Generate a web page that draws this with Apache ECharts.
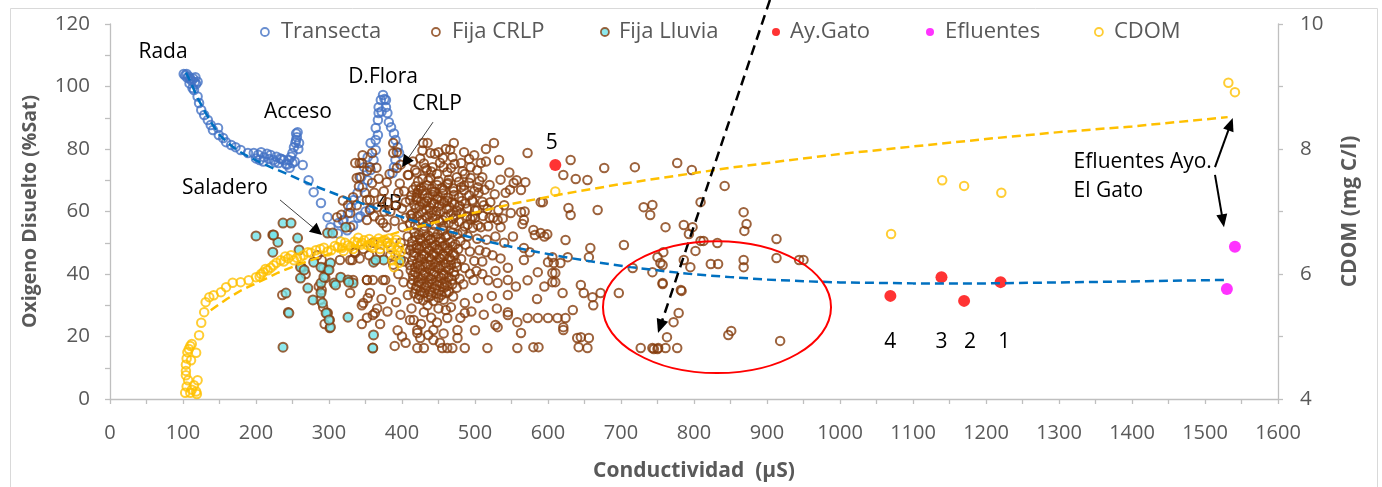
<!DOCTYPE html>
<html>
<head>
<meta charset="utf-8">
<script src="https://cdn.jsdelivr.net/npm/echarts@6/dist/echarts.min.js"></script>
<style>
html, body { margin: 0; padding: 0; background: #ffffff; }
#chart { width: 1382px; height: 487px; }
</style>
</head>
<body>
<div id="chart"></div>
<script>
// Conductividad (µS) vs Oxigeno Disuelto (%Sat)
const transecta = [
  [101,104],[103,103.5],[105,104],[106,102.8],[108,103.2],[110,102.5],[112,101.8],[114,102.6],[116,101.4],[118,100.8],
  [120,101.5],[117,103],[109,101],[113,99.5],[115,98.9],[120,96.8],[122,94.7],[125,92.5],[129,90.9],[134,89.3],
  [138,87.7],[141,86.1],[148,86.7],[149,84.5],[155,83.5],[159,82.2],[166,81.3],[172,80.6],[179,79.7],[189,78.7],
  [197,78.7],[203,78.2],[207,79],[211,77.4],[215,78.5],[220,78.1],[224,76.5],[228,77.5],[231,75.5],[235,76.8],
  [238,76.5],[241,75.2],[245,76.5],[248,77.5],[250,78.7],[252,80.6],[254,82],[255,82.9],[255,85],[257,85.4],
  [256,83.8],[258,80],[259,81.9],[253,76],[200,77],[205,76.5],[210,76],[218,76.8],[226,75.8],[233,77],
  [243,75],[246,74],[250,75.5],[264,74.9],[272,70],[279,66.2],[289,62.7],[298,58.2],[302,55],[313,56.3],
  [320,57.3],[326,59.5],[330,61.4],[334,63.7],[339,65.9],[346,67.8],[353,70],[357,73.3],[361,76.5],[364,79.7],
  [364,82.9],[367,84.5],[364,86.7],[367,89.3],[368,91.5],[368,93.4],[371,95.7],[374,97.3],[378,95.7],[378,93.4],
  [380,91.5],[382,88.6],[385,87],[389,85],[391,82.9],[394,80.6],[396,78.7],[391,76.5],[389,74.2],[387,72.3],
  [357,81.9],[353,77.4],[348,74.2],[344,71],[319,57],[312,53],[325,54],[333,55.5],[340,58],[343,58.5],
  [350,60],[357,61],[376,96],[372,92]
];

const fijaCRLP = [
  // 230-330
  [236,33.3],[244,27.8],[290,44.5],[292,41.9],[295,38.7],[290,34.9],[288,31.7],[292,29.4],[297,27.5],[301,25.3],
  [301,22.7],[315,44.5],[329,44.5],[333,38.1],[352,38.1],[360,38.1],[353,32.3],[345,30],[360,26.9],[360,16.3],
  [374,38.1],[336,46.7],[384,46],[263,42],[268,40],[284,46],[286,36],[294,24],
  // 330-440, around 4B and D.Flora
  [336,75.5],[342,75.5],[338,70.7],[359,78.7],[359,69.1],[388,81.9],[388,78.7],[393,73.9],[379,69.4],[352,63.7],
  [356,60.5],[352,57.3],[338,62],[370,57.3],[379,55],[401,55],[329,55],[411,63.7],[421,65.9],[429,81.9],
  [434,73.3],[332,44.5],[329,33.9],[347,30.7],[356,33.9],[352,38.1],[377,38.1],[363,27.5],[411,25.3],[421,21.1],
  [342,71],[356,74.2],[365,74],[393,79],[397,69],[408,71.7],[333,64.6],[356,63.7],[366,61.4],[329,59.5],
  [311,58.2],[317,59],[374,56.3],[345,75.5],[395,66],[400,61],[405,58],[384,60],[390,57],[362,66],
  [372,64],[380,63],[335,47],[342,45],[347,48],[355,46],[360,50],[370,47],[380,50],[388,43],
  [395,40],[385,35],[372,32],[366,29],[352,26],[345,24],[370,24],[380,28],[392,31],[398,27],
  [394,22],[390,17],[405,18],[400,20],[403,44],[398,50],[405,48],[408,52],
  [346,78],[352,73],[368,70.5],[375,66.5],[383,72],[398,75],[403,66.5],[362,58.5],[349,66],[326,62],
  [319,63.5],[341,68],[376,60],[392,62],[405,63],
  // 410-500 core
  [414,50.5],[420,49.2],[426,50.8],[433,49.6],[439,50.9],[446,49.3],[452,50.4],[459,49.1],[466,50.2],[473,49.5],[480,50.6],
  [411,47.6],[417,46.8],[424,47.9],[430,46.4],[437,47.5],[443,46.6],[450,47.8],[456,46.3],[463,47.4],[470,46.7],[477,47.9],
  [414,44.3],[421,43.5],[427,44.8],[434,43.2],[440,44.6],[447,43.7],[453,44.9],[460,43.4],[467,44.5],[474,43.6],
  [412,41.2],[418,40.5],[425,41.7],[431,40.3],[438,41.4],[444,40.6],[451,41.8],[457,40.2],[464,41.3],[471,40.7],
  [415,38.1],[422,37.4],[428,38.6],[435,37.2],[441,38.3],[448,37.5],[454,38.7],[461,37.3],[468,38.2],
  [419,35.2],[425,34.5],[432,35.6],[438,34.3],[445,35.4],[451,34.6],[458,35.7],[464,34.4],
  [422,32.1],[429,31.6],[436,32.5],[443,31.4],[450,32.4],[457,31.8],
  [417,53.4],[423,52.6],[430,53.8],[436,52.3],[443,53.5],[449,52.7],[456,53.9],[462,52.4],[469,53.3],[476,52.8],[483,53.6],
  [411,56.2],[418,55.6],[424,56.8],[431,55.3],[437,56.5],[444,55.7],[451,56.9],[457,55.4],[464,56.3],[471,55.8],[478,56.7],[486,55.2],
  [414,59.3],[421,58.5],[427,59.8],[434,58.4],[440,59.5],[447,58.7],[453,59.9],[460,58.3],[467,59.4],[474,58.8],[481,59.6],[489,58.5],
  [417,62.2],[424,61.6],[431,62.7],[438,61.3],[444,62.5],[451,61.8],[458,62.9],[465,61.4],[472,62.3],[479,61.7],[487,62.6],
  [413,65.1],[420,64.5],[428,65.6],[435,64.3],[442,65.4],[449,64.7],[456,65.8],[463,64.4],[471,65.3],[478,64.6],[492,65.2],
  [419,68.1],[426,67.5],[434,68.4],[441,67.3],[448,68.5],[455,67.6],[462,68.7],[470,67.4],[485,68.3],
  [487,49.4],[493,47.2],[490,52.1],[497,54.8],[494,57.6],[500,60.3],[497,63.2],[503,51.3],[481,44.8],[486,41.9],
  [479,38.5],[475,35.6],[470,32.8],[484,36.7],[493,40.1],[499,44.2],[506,47.6],
  [417,33.8],[424,33.2],[431,33.9],[440,33.1],[447,33.8],[454,33.3],[461,33.9],
  [413,36.7],[420,36.2],[427,36.9],[434,36.1],[441,36.8],[448,36.3],[455,36.9],[462,36.2],[469,36.7],
  [415,39.7],[422,39.1],[429,39.8],[436,39.2],[443,39.9],[450,39.3],[457,39.8],[464,39.1],[472,39.6],
  [411,42.8],[418,42.2],[425,42.9],[432,42.3],[439,42.9],[446,42.2],[453,42.8],[460,42.1],[467,42.9],[475,42.3],
  [416,45.8],[423,45.2],[430,45.9],[437,45.3],[444,45.9],[451,45.2],[458,45.8],[465,45.3],[472,45.9],
  [413,48.9],[420,48.3],[427,48.9],[434,48.2],[441,48.8],[448,48.1],[455,48.9],[462,48.3],[469,48.8],
  [418,51.9],[425,51.3],[432,51.9],[439,51.2],[446,51.8],[453,51.3],[460,51.9],
  [414,57.8],[428,57.3],[442,57.9],[456,57.2],[470,57.7],
  [420,63.8],[434,63.3],[448,63.9],[462,63.4],[423,66.8],[445,66.3],
  // 410-545 upper
  [412,58.8],[419,61],[426,63.2],[433,60.5],[440,62.8],[447,60.1],[454,63.5],[461,60.7],[468,63],[475,60.3],
  [482,63.4],[489,60.9],[496,63.6],[503,60.4],[510,63.1],[517,60.8],
  [415,67],[422,69.6],[429,66.7],[436,69.9],[443,66.4],[450,69.8],[457,66.9],[464,70.2],[471,66.5],[478,69.5],
  [485,66.9],[492,69.2],[499,66.5],[506,69.8],[513,67],
  [420,72.5],[430,75.4],[440,72.8],[452,75.6],[462,72.6],[472,75.2],[483,72.9],[492,76.8],[503,73.2],[515,76],
  [445,78.5],[466,79.8],[485,79],[428,79.5],
  [490,55.8],[497,58.4],[504,55.6],[511,58.6],[518,55.3],[525,58],[532,60.5],[538,57.8],[527,65.5],[520,68.5],
  [535,70.2],[542,66],[547,72.5],[533,76.5],[515,80],
  [435,81.9],[471,81.9],[526,81.9],[439,78.7],[469,77.4],[456,77.1],[432,73.9],[442,74.2],[457,74.2],[467,73.9],
  [481,75.5],[494,74.2],[508,75.5],[409,71.7],[439,70.7],[494,70.7],[504,67.8],[463,69.1],[481,67.8],[448,72],
  [425,77],[415,76],[486,72],[475,71],[460,80],[450,79],[428,70.5],[418,73.2],[510,71],[499,78],
  // 400-520 lower
  [421,22.1],[416,25.3],[430,27.8],[443,22.1],[443,18.9],[462,25.9],[467,29.4],[476,22.1],[486,30.7],[486,27.5],
  [504,32.3],[430,16.3],[421,16.3],[469,16.3],[486,16.3],[517,16.3],[408,33.3],[402,37.4],[455,16.3],[476,19.5],
  [435,30],[450,29],[425,19.5],[413,29],[457,21],[440,26],[448,24.5],[460,28.5],[480,26],[436,20.5],
  [426,24],[452,18],[462,16.3],[495,28],[500,22],
  // 500-640
  [553,69.1],[569,69.4],[563,66.9],[590,63],[628,61.1],[631,58.9],[549,59.5],[563,59.8],[567,57.3],[531,57.3],
  [521,63],[580,54.1],[590,53.1],[595,52],[624,50.9],[567,48.3],[567,44.5],[586,40.6],[600,43.8],[606,45.4],
  [617,43.5],[606,40.3],[606,37.4],[620,33.9],[634,28.5],[624,25.9],[613,25.9],[600,25.9],[586,25.9],[572,25.9],
  [558,24.6],[545,26.9],[528,23.7],[563,21.1],[621,22.1],[640,19.5],[580,16.6],[558,16.3],[545,33.3],[545,38.1],
  [531,37.1],[498,38.1],[535,45],[540,50],[528,52],[515,47],[552,52],[575,47],[545,42],[530,29],
  [512,27],[523,33],[556,36],[572,38],[585,32],[595,36],[510,40],[505,66],[512,62],[520,58],
  [508,55],[516,51],[524,46],[510,44],[502,41],[518,38],[528,41],[535,55],[540,62],[500,58],
  [548,67],[557,70],[582,52.5],[599,52.7],[565,56],[568,60],
  // 520-800
  [572,78.7],[631,76.5],[621,71.7],[638,70.4],[654,70.1],[677,73.9],[719,74.2],[777,75.5],[797,73.3],[593,63],
  [668,60.5],[731,61.4],[743,62.1],[740,58.9],[761,55],[786,55.7],[798,55],[704,49.3],[658,48.3],[656,45.4],
  [627,45.4],[608,43.5],[610,40.3],[610,37.4],[645,36.5],[649,33.9],[661,32.6],[662,30],[672,33.9],[697,33.9],
  [716,41.9],[743,40.6],[750,45.4],[754,43.5],[757,37.1],[782,34.9],[786,44.5],[795,42.2],[779,27.5],[772,24.6],
  [763,19.8],[727,16.3],[743,16.3],[751,16.3],[761,16.3],[777,16.3],[645,19.8],[656,19.5],[642,16.6],[654,16.3],
  [621,23],[531,23],[545,27.8],[587,16.6],
  // 780-950
  [842,68.2],[809,63],[793,52.8],[809,50.6],[813,50.6],[802,47.4],[832,49.9],[868,59.8],[872,56],[869,53.8],
  [913,51.2],[823,43.2],[833,43.2],[868,42.2],[868,44.5],[913,45.1],[944,44.5],[950,44.5],[757,42.9],[758,47],
  [757,36.8],[783,34.6],[847,20.5],[851,21.8],[918,18.6],[745,16],[750,16]
];

const fijaLluvia = [
  [237,56.3],[248,56.3],[200,52.2],[223,52.5],[230,50.2],[223,47],[257,51.5],[259,47.7],[279,43.8],[261,42.2],
  [298,53.1],[323,55],[261,38.7],[271,35.5],[278,31.7],[289,37.1],[289,33.9],[298,41.3],[302,43.5],[307,37.1],
  [316,39],[326,38.1],[333,37.1],[298,27.5],[302,23],[237,16.6],[326,26.2],[361,20.5],[375,44.5],[361,43.8],
  [398,44.5],[266,41.3],[241,33.9],[245,27.5],[289,42.2],[293,39],[300,41.3],[309,36.5],[327,37.4],[291,30.7],
  [296,27.5],[300,25.3],[360,16.3],[364,44.5],[305,53.1],[224,52.5]
];

const ayGato = [[610,74.9],[1069,33],[1139,39],[1170,31.4],[1220,37.4]];

const efluentes = [[1530,35.2],[1541,48.7]];

// CDOM (mg C/l), right axis
const cdom = [
  [103,4.1],[105,4.2],[107,4.3],[112,4.15],[115,4.22],[118,4.12],[120,4.3],[119,4.08],[104,4.38],[110,4.1],
  [104,4.45],[104,4.55],[105,4.65],[106,4.75],[108,4.8],[110,4.85],[112,4.88],[111,4.62],[118,4.74],[122,5.02],
  [125,5.22],[129,5.39],[131,5.55],[136,5.63],[142,5.66],[152,5.71],[159,5.79],[168,5.86],[179,5.87],[190,5.9],
  [200,5.95],[207,6.0],[216,6.06],[224,6.14],[234,6.22],[244,6.25],[252,6.22],[261,6.27],[271,6.35],[282,6.38],
  [293,6.42],[303,6.38],[312,6.43],[326,6.46],[339,6.5],[353,6.46],[367,6.5],[380,6.51],[389,6.5],[396,6.43],
  [398,6.35],[389,6.11],[205,5.96],[210,6.03],[213,6.08],[220,6.1],[228,6.18],[238,6.2],[240,6.28],[248,6.3],
  [256,6.26],[265,6.3],[275,6.34],[288,6.4],[298,6.36],[308,6.45],[318,6.42],[322,6.5],[330,6.44],[335,6.52],
  [344,6.47],[348,6.54],[358,6.45],[362,6.52],[372,6.47],[376,6.55],[384,6.46],[392,6.55],[394,6.38],[385,6.4],
  [370,6.4],[360,6.42],[345,6.5],[333,6.4],[320,6.37],[316,6.52],[340,6.58],[355,6.56],[368,6.57],[382,6.57],
  [391,6.3],[396,6.18],[387,6.22],
  [610,7.32],[1070,6.64],[1140,7.5],[1170,7.41],[1221,7.3],[1532,9.06],[1541,8.91]
];

// Trend lines
const trendOD = [
  [104,104.5],[110,101.6],[120,96.3],[130,92],[140,88],[150,84.5],[162,81.8],[175,79.5],[190,77.5],[205,75.8],
  [220,74.2],[240,72.3],[260,70.2],[280,68.2],[300,66.4],[320,64.6],[345,62.6],[370,60.6],[395,58.6],[420,56.7],
  [450,54.6],[480,52.6],[510,50.8],[540,49.2],[580,47.3],[620,45.5],[665,43.8],[713,42.2],[760,40.9],[800,39.9],
  [850,39],[900,38.2],[950,37.7],[1000,37.3],[1100,37],[1200,37],[1300,37.3],[1420,37.7],[1527,38.1]
];
const trendCDOM = [
  [138,5.42],[160,5.6],[180,5.74],[200,5.85],[230,6.02],[260,6.16],[300,6.32],[350,6.5],[400,6.69],[470,6.9],
  [550,7.12],[620,7.28],[700,7.44],[780,7.58],[850,7.7],[930,7.82],[1000,7.92],[1100,8.04],[1200,8.16],[1300,8.27],
  [1400,8.36],[1531,8.51]
];

const FONT = "'Open Sans', 'Liberation Sans', sans-serif";
const GRAY = '#595959';
const AXIS_COLOR = '#BFBFBF';
const BLUE = '#4472C4';
const BROWN = '#843C0C';
const CYAN = '#72E2E8';
const YELLOW = '#FFC000';
const NONE = 'rgba(0,0,0,0)';

const chart = echarts.init(document.getElementById('chart'), null, { renderer: 'canvas' });

function legendItem(name, markerX, textX, style) {
  return {
    data: [{ name: name, icon: 'circle', itemStyle: style }],
    left: markerX - 4,
    top: 21,
    padding: 0,
    itemWidth: 8,
    itemHeight: 8,
    selectedMode: false,
    textStyle: {
      fontFamily: FONT, fontSize: 22, color: GRAY,
      padding: [0, 0, 0, textX - (markerX + 4) - 5]
    }
  };
}

function valueAxis(extra) {
  return Object.assign({
    type: 'value',
    axisLine: { show: true, lineStyle: { color: AXIS_COLOR, width: 1.3 } },
    axisTick: { show: true, length: 5, lineStyle: { color: AXIS_COLOR, width: 1.3 } },
    minorTick: { show: true, splitNumber: 2, length: 5, lineStyle: { color: AXIS_COLOR, width: 1.3 } },
    splitLine: { show: false },
    nameLocation: 'middle',
    nameTextStyle: { fontFamily: FONT, fontSize: 21, fontWeight: 'bold', color: GRAY }
  }, extra);
}

const plainNumber = (v) => String(v);
const hollow = (c) => ({ color: NONE, borderColor: c, borderWidth: 2 });

chart.setOption({
  animation: false,
  backgroundColor: '#ffffff',
  textStyle: { fontFamily: FONT },
  grid: { left: 110, right: 104, top: 24, bottom: 88, containLabel: false },
  legend: [
    legendItem('Transecta', 264, 280, { color: NONE, borderColor: BLUE, borderWidth: 1.8 }),
    legendItem('Fija CRLP', 435, 451, { color: NONE, borderColor: BROWN, borderWidth: 1.8 }),
    legendItem('Fija Lluvia', 604, 618, { color: CYAN, borderColor: BROWN, borderWidth: 1.8 }),
    legendItem('Ay.Gato', 776, 790, { color: '#FF0000', borderWidth: 0 }),
    legendItem('Efluentes', 930, 945, { color: '#FF00FF', borderWidth: 0 }),
    legendItem('CDOM', 1098, 1113, { color: NONE, borderColor: YELLOW, borderWidth: 1.8 })
  ],
  xAxis: valueAxis({
    min: 0, max: 1600, interval: 100,
    name: 'Conductividad  (µS)', nameGap: 62,
    axisLabel: { fontFamily: FONT, fontSize: 20, color: GRAY, margin: 24, formatter: plainNumber }
  }),
  yAxis: [
    valueAxis({
      min: 0, max: 120, interval: 20, position: 'left',
      name: 'Oxigeno Disuelto (%Sat)', nameRotate: 90, nameGap: 70,
      nameTextStyle: { fontFamily: FONT, fontSize: 19.5, fontWeight: 'bold', color: GRAY },
      axisLabel: { fontFamily: FONT, fontSize: 20.5, color: GRAY, margin: 20, formatter: plainNumber }
    }),
    valueAxis({
      min: 4, max: 10, interval: 2, position: 'right',
      name: 'CDOM (mg C/l)', nameRotate: 90, nameGap: 62,
      axisLabel: { fontFamily: FONT, fontSize: 20.5, color: GRAY, margin: 22, formatter: plainNumber }
    })
  ],
  series: [
    { name: 'Transecta', type: 'scatter', data: transecta, symbol: 'circle', symbolSize: 8.5,
      itemStyle: hollow(BLUE), z: 2, silent: true },
    { name: 'Fija CRLP', type: 'scatter', data: fijaCRLP, symbol: 'circle', symbolSize: 8.5,
      itemStyle: hollow(BROWN), z: 3, silent: true },
    { name: 'Fija Lluvia', type: 'scatter', data: fijaLluvia, symbol: 'circle', symbolSize: 9,
      itemStyle: { color: CYAN, borderColor: BROWN, borderWidth: 2 }, z: 4, silent: true },
    { name: 'Ay.Gato', type: 'scatter', data: ayGato, symbol: 'circle', symbolSize: 12,
      itemStyle: { color: '#FF0000' }, z: 5, silent: true },
    { name: 'Efluentes', type: 'scatter', data: efluentes, symbol: 'circle', symbolSize: 12,
      itemStyle: { color: '#FF00FF' }, z: 5, silent: true },
    { name: 'CDOM', type: 'scatter', yAxisIndex: 1, data: cdom, symbol: 'circle', symbolSize: 8.5,
      itemStyle: hollow(YELLOW), z: 6, silent: true },
    { name: 'Tendencia OD', type: 'line', data: trendOD, smooth: false,
      showSymbol: false, silent: true, z: 8,
      lineStyle: { color: '#0070C0', width: 2.5, type: [9, 5] } },
    { name: 'Tendencia CDOM', type: 'line', yAxisIndex: 1, data: trendCDOM, smooth: false,
      showSymbol: false, silent: true, z: 8,
      lineStyle: { color: YELLOW, width: 2.5, type: [9, 5] } }
  ]
});

// Annotations positioned in data units of the left axis
const px = (x, y) => chart.convertToPixel({ xAxisIndex: 0, yAxisIndex: 0 }, [x, y]);

const notes = [
  ['Rada', 72.6, 111, 'center', 100],
  ['D.Flora', 374, 103, 'center', 100],
  ['Acceso', 257.5, 91.7, 'center', 100],
  ['CRLP', 448, 94.4, 'center', 100],
  ['Saladero', 157.5, 67.5, 'center', 100],
  ['4B', 383, 62.3, 'center', 1],
  ['5', 605, 82, 'center', 100],
  ['4', 1069, 18.2, 'center', 100],
  ['3', 1139, 18.2, 'center', 100],
  ['2', 1178, 18.2, 'center', 100],
  ['1', 1225, 18.2, 'center', 100],
  ['Efluentes Ayo.', 1320, 75.8, 'left', 100],
  ['El Gato', 1320, 66.4, 'left', 100]
];

function arrow(a, b, opt) {
  const p1 = px(a[0], a[1]);
  const p2 = px(b[0], b[1]);
  const dx = p2[0] - p1[0], dy = p2[1] - p1[1];
  const len = Math.sqrt(dx * dx + dy * dy);
  const ux = dx / len, uy = dy / len;
  const bx = p2[0] - ux * opt.head, by = p2[1] - uy * opt.head;
  const nx = -uy * opt.half, ny = ux * opt.half;
  return [
    { type: 'line', z: 100, silent: true,
      shape: { x1: p1[0], y1: p1[1], x2: bx + ux * 1, y2: by + uy * 1 },
      style: { stroke: opt.color, lineWidth: opt.width, lineDash: opt.dash || null } },
    { type: 'polygon', z: 100, silent: true,
      shape: { points: [[p2[0], p2[1]], [bx + nx, by + ny], [bx - nx, by - ny]] },
      style: { fill: '#000000' } }
  ];
}

const graphics = [];

// chart area frame
graphics.push({ type: 'rect', z: 0, silent: true,
  shape: { x: 10.5, y: 8.5, width: 1367, height: 500 },
  style: { fill: null, stroke: '#D9D9D9', lineWidth: 1 } });

notes.forEach(function (n) {
  const p = px(n[1], n[2]);
  graphics.push({ type: 'text', z: n[4], silent: true, x: p[0], y: p[1],
    style: { text: n[0], fontFamily: FONT, fontSize: 21, fill: '#000000',
      align: n[3], verticalAlign: 'middle' } });
});

Array.prototype.push.apply(graphics, arrow([442.5, 88.6], [400, 74.2], { color: '#404040', width: 1, head: 12, half: 6 }));
Array.prototype.push.apply(graphics, arrow([232.9, 63.7], [290.4, 52.5], { color: '#404040', width: 1, head: 12, half: 6 }));
Array.prototype.push.apply(graphics, arrow([904, 127.7], [750.7, 21.1], { color: '#000000', width: 2.5, head: 14, half: 6, dash: [10, 6] }));
Array.prototype.push.apply(graphics, arrow([1513.7, 74.2], [1538, 89.9], { color: '#000000', width: 2, head: 13, half: 5.5 }));
Array.prototype.push.apply(graphics, arrow([1513.7, 71.7], [1526, 55], { color: '#000000', width: 2, head: 13, half: 5.5 }));

// ellipse around the low-oxygen group
const ec = px(831.5, 29.4);
const er = px(831.5 + 156.2, 29.4 + 21.1);
graphics.push({ type: 'ellipse', z: 100, silent: true,
  shape: { cx: ec[0], cy: ec[1], rx: Math.abs(er[0] - ec[0]), ry: Math.abs(er[1] - ec[1]) },
  style: { fill: null, stroke: '#FF0000', lineWidth: 2 } });

chart.setOption({ graphic: { elements: graphics } });
</script>
</body>
</html>
